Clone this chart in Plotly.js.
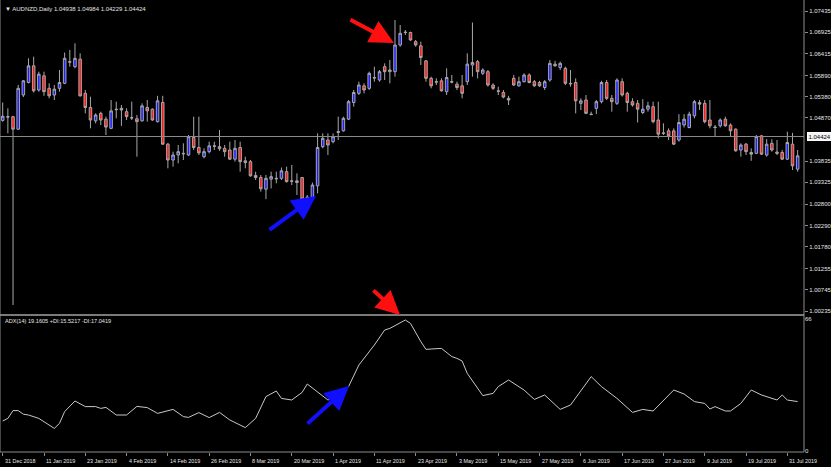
<!DOCTYPE html>
<html><head><meta charset="utf-8">
<script src="https://cdn.plot.ly/plotly-3.0.1.min.js"></script>
<style>html,body{margin:0;padding:0;background:#000;}#chart{width:831px;height:467px;}</style>
</head><body><div id="chart"></div>
<script>
const openP = [
1.0481,1.0490,1.0490,1.0460,1.0542,1.0572,1.0612,1.0554,1.0588,1.0558,
1.0542,1.0558,1.0570,1.0622,1.0610,1.0628,1.0546,1.0512,1.0480,1.0498,
1.0484,1.0462,1.0508,1.0510,1.0502,1.0488,1.0485,1.0480,1.0512,1.0508,
1.0478,1.0524,1.0424,1.0386,1.0398,1.0402,1.0398,1.0440,1.0416,1.0394,
1.0406,1.0420,1.0418,1.0414,1.0410,1.0388,1.0416,1.0384,1.0382,1.0349,
1.0344,1.0316,1.0340,1.0342,1.0342,1.0358,1.0336,1.0332,1.0344,1.0297,
1.0292,1.0324,1.0418,1.0434,1.0430,1.0452,1.0456,1.0484,1.0524,1.0546,
1.0564,1.0558,1.0584,1.0578,1.0610,1.0598,1.0598,1.0662,1.0693,1.0692,
1.0670,1.0660,1.0624,1.0582,1.0574,1.0576,1.0550,1.0574,1.0568,1.0564,
1.0574,1.0614,1.0622,1.0594,1.0598,1.0566,1.0552,1.0548,1.0534,1.0582,
1.0564,1.0574,1.0590,1.0574,1.0572,1.0560,1.0578,1.0616,1.0608,1.0606,
1.0570,1.0572,1.0522,1.0530,1.0496,1.0510,1.0526,1.0572,1.0534,1.0522,
1.0574,1.0546,1.0526,1.0522,1.0500,1.0508,1.0514,1.0482,1.0451,1.0456,
1.0456,1.0434,1.0470,1.0464,1.0492,1.0524,1.0522,1.0482,1.0465,1.0468,
1.0484,1.0470,1.0460,1.0410,1.0424,1.0404,1.0402,1.0444,1.0398,1.0426,
1.0405,1.0404,1.0388,1.0424,1.0364];
const highP = [
1.0524,1.0510,1.0492,1.0566,1.0578,1.0630,1.0634,1.0598,1.0598,1.0570,
1.0566,1.0602,1.0644,1.0650,1.0666,1.0642,1.0554,1.0538,1.0498,1.0502,
1.0490,1.0530,1.0526,1.0518,1.0510,1.0526,1.0494,1.0522,1.0530,1.0510,
1.0540,1.0540,1.0427,1.0406,1.0422,1.0426,1.0446,1.0490,1.0490,1.0414,
1.0430,1.0430,1.0458,1.0422,1.0430,1.0434,1.0430,1.0394,1.0386,1.0358,
1.0350,1.0350,1.0358,1.0358,1.0368,1.0370,1.0374,1.0354,1.0344,1.0302,
1.0332,1.0450,1.0450,1.0450,1.0450,1.0490,1.0490,1.0530,1.0554,1.0574,
1.0570,1.0598,1.0610,1.0602,1.0618,1.0626,1.0722,1.0710,1.0698,1.0694,
1.0674,1.0670,1.0626,1.0586,1.0582,1.0582,1.0606,1.0590,1.0574,1.0590,
1.0642,1.0716,1.0626,1.0606,1.0602,1.0570,1.0562,1.0554,1.0540,1.0590,
1.0586,1.0594,1.0594,1.0578,1.0576,1.0578,1.0626,1.0624,1.0622,1.0610,
1.0602,1.0582,1.0534,1.0542,1.0502,1.0530,1.0576,1.0578,1.0542,1.0582,
1.0582,1.0550,1.0534,1.0530,1.0532,1.0526,1.0526,1.0526,1.0474,1.0462,
1.0462,1.0496,1.0496,1.0502,1.0530,1.0530,1.0530,1.0530,1.0470,1.0486,
1.0490,1.0474,1.0462,1.0426,1.0427,1.0414,1.0446,1.0446,1.0436,1.0436,
1.0434,1.0410,1.0454,1.0451,1.0410];
const lowP = [
1.0478,1.0450,1.0038,1.0458,1.0537,1.0570,1.0548,1.0550,1.0540,1.0534,
1.0530,1.0550,1.0568,1.0610,1.0606,1.0538,1.0498,1.0462,1.0474,1.0470,
1.0446,1.0460,1.0486,1.0468,1.0482,1.0482,1.0394,1.0478,1.0478,1.0480,
1.0476,1.0422,1.0366,1.0370,1.0378,1.0386,1.0396,1.0410,1.0398,1.0390,
1.0402,1.0410,1.0408,1.0394,1.0386,1.0382,1.0358,1.0366,1.0346,1.0338,
1.0310,1.0292,1.0318,1.0330,1.0338,1.0332,1.0326,1.0302,1.0290,1.0290,
1.0290,1.0306,1.0414,1.0398,1.0426,1.0434,1.0454,1.0482,1.0514,1.0542,
1.0546,1.0554,1.0574,1.0574,1.0578,1.0570,1.0586,1.0658,1.0686,1.0672,
1.0658,1.0614,1.0574,1.0558,1.0566,1.0550,1.0542,1.0570,1.0554,1.0534,
1.0566,1.0586,1.0582,1.0590,1.0562,1.0554,1.0542,1.0534,1.0518,1.0564,
1.0562,1.0572,1.0570,1.0562,1.0561,1.0554,1.0574,1.0610,1.0602,1.0566,
1.0562,1.0498,1.0506,1.0496,1.0494,1.0496,1.0522,1.0530,1.0502,1.0518,
1.0538,1.0502,1.0514,1.0476,1.0496,1.0502,1.0474,1.0438,1.0446,1.0434,
1.0422,1.0430,1.0464,1.0462,1.0486,1.0506,1.0474,1.0462,1.0442,1.0464,
1.0466,1.0442,1.0406,1.0394,1.0398,1.0384,1.0400,1.0398,1.0394,1.0406,
1.0398,1.0386,1.0386,1.0362,1.0358];
const closeP = [
1.0491,1.0489,1.0460,1.0558,1.0576,1.0612,1.0552,1.0592,1.0550,1.0540,
1.0556,1.0572,1.0630,1.0621,1.0630,1.0540,1.0512,1.0482,1.0494,1.0482,
1.0465,1.0504,1.0507,1.0506,1.0490,1.0487,1.0478,1.0516,1.0504,1.0482,
1.0528,1.0424,1.0386,1.0398,1.0406,1.0401,1.0442,1.0416,1.0403,1.0406,
1.0420,1.0419,1.0413,1.0406,1.0388,1.0414,1.0382,1.0380,1.0348,1.0344,
1.0317,1.0342,1.0346,1.0341,1.0360,1.0334,1.0335,1.0336,1.0292,1.0292,
1.0326,1.0416,1.0438,1.0422,1.0442,1.0454,1.0486,1.0526,1.0548,1.0566,
1.0554,1.0594,1.0583,1.0598,1.0598,1.0602,1.0662,1.0690,1.0692,1.0674,
1.0662,1.0632,1.0582,1.0564,1.0573,1.0552,1.0584,1.0573,1.0560,1.0546,
1.0616,1.0620,1.0598,1.0602,1.0566,1.0558,1.0551,1.0537,1.0530,1.0566,
1.0574,1.0590,1.0572,1.0564,1.0564,1.0574,1.0618,1.0612,1.0618,1.0570,
1.0569,1.0528,1.0528,1.0498,1.0495,1.0526,1.0572,1.0534,1.0526,1.0578,
1.0542,1.0524,1.0518,1.0508,1.0508,1.0516,1.0478,1.0448,1.0450,1.0444,
1.0424,1.0476,1.0484,1.0496,1.0526,1.0520,1.0478,1.0468,1.0464,1.0482,
1.0468,1.0456,1.0408,1.0422,1.0406,1.0400,1.0442,1.0400,1.0424,1.0410,
1.0402,1.0388,1.0428,1.0372,1.0396];

const adxBar = [0,1,2,3,4,5,7,8,10,11,12,14,16,18,19,20,22,24,26,28,30,33,35,36,38,40,42,44,47,49,51,53,54,56,58,59,61,63,65,67,69,72,74,75,78,79,81,82,83,85,87,88,89,90,93,95,96,98,101,103,105,107,108,110,114,116,119,122,124,126,128,130,132,134,136,137,138,140,141,143,145,147,150,151,152,154];
const adxVal = [15.0,16.3,20.2,20.2,18.4,18.0,16.3,14.7,11.3,13.8,19.7,25.0,22.2,22.2,21.3,21.8,18.0,18.0,22.3,21.7,18.8,20.8,17.2,16.8,19.2,16.7,19.3,15.5,11.7,16.3,27.2,30.0,26.3,25.5,29.3,33.5,29.3,25.5,27.2,32.2,43.0,53.0,60.5,61.3,65.5,63.8,54.7,50.8,51.0,51.3,47.2,46.3,45.0,38.8,27.7,28.8,32.2,35.5,30.5,25.8,28.0,23.0,20.8,23.0,37.2,32.2,26.3,19.3,20.8,20.0,25.5,30.5,28.5,24.7,23.8,21.0,22.2,20.0,20.0,23.8,30.5,28.0,25.5,28.0,25.5,24.7];

const tickBars = [0,8,16,24,32,40,48,56,64,72,80,88,96,104,112,120,128,136,144,152];
const tickLabels = ['31 Dec 2018','11 Jan 2019','23 Jan 2019','4 Feb 2019','14 Feb 2019','26 Feb 2019','8 Mar 2019','20 Mar 2019','1 Apr 2019','11 Apr 2019','23 Apr 2019','3 May 2019','15 May 2019','27 May 2019','6 Jun 2019','17 Jun 2019','27 Jun 2019','9 Jul 2019','19 Jul 2019','31 Jul 2019'];
const priceTicks = [1.07435,1.06925,1.06415,1.05890,1.05380,1.04870,1.03835,1.03325,1.02800,1.02290,1.01780,1.01255,1.00745,1.00235];
const adxTicks = [0,66];
const lastPrice = 1.04424;
const headerText = '\u25BC AUDNZD,Daily 1.04938 1.04984 1.04229 1.04424';
const adxText = 'ADX(14) 19.1605 +DI:15.5217 -DI:17.0419';

const bars = openP.map((_, i) => i);
const FONT = 'Liberation Sans, Arial, sans-serif';
const TXT = '#e6e6e6';
const GRID = '#8c8c8c';

const traces = [
  {
    type: 'candlestick', x: bars, open: openP, high: highP, low: lowP, close: closeP,
    xaxis: 'x', yaxis: 'y',
    increasing: {line: {color: '#a8a8a8', width: 1}, fillcolor: '#1e1eff'},
    decreasing: {line: {color: '#a8a8a8', width: 1}, fillcolor: '#ff1a1a'},
    whiskerwidth: 0, hoverinfo: 'skip'
  },
  {
    type: 'scatter', mode: 'lines', x: adxBar, y: adxVal, xaxis: 'x', yaxis: 'y2',
    line: {color: '#c8c8c8', width: 1}, hoverinfo: 'skip'
  }
];

const annotations = tickBars.map((b, i) => ({
  x: b, xref: 'x', y: 0, yref: 'paper', yanchor: 'top', xanchor: 'left',
  yshift: -4, xshift: 0, text: tickLabels[i], showarrow: false,
  font: {family: FONT, size: 5.4, color: TXT}
}));
annotations.push(
  {x: 0, xref: 'paper', y: 1, yref: 'paper', xanchor: 'left', yanchor: 'top', xshift: 3, yshift: -4,
   text: headerText, showarrow: false, font: {family: FONT, size: 6, color: TXT}},
  {x: 0, xref: 'paper', y: 0.2987, yref: 'paper', xanchor: 'left', yanchor: 'top', xshift: 3, yshift: 1,
   text: adxText, showarrow: false, font: {family: FONT, size: 5.6, color: TXT}},
  {x: 1, xref: 'paper', y: lastPrice, yref: 'y', xanchor: 'left', yanchor: 'middle', xshift: 3,
   text: lastPrice.toFixed(5), showarrow: false, bgcolor: '#f2f2f2', bordercolor: '#ffffff', borderpad: 0.5,
   font: {family: FONT, size: 6, color: '#000000'}},
  {x: 394/804, y: (452-43)/452, xref: 'paper', yref: 'paper', ax: -45, ay: -24,
   showarrow: true, arrowhead: 2, arrowsize: 1.2, arrowwidth: 4, arrowcolor: '#ff1010', text: ''},
  {x: 316/804, y: (452-196)/452, xref: 'paper', yref: 'paper', ax: -48, ay: 35,
   showarrow: true, arrowhead: 2, arrowsize: 1.2, arrowwidth: 4, arrowcolor: '#1010ff', text: ''},
  {x: 400/804, y: (452-315)/452, xref: 'paper', yref: 'paper', ax: -28, ay: -26,
   showarrow: true, arrowhead: 2, arrowsize: 1.2, arrowwidth: 4, arrowcolor: '#ff1010', text: ''},
  {x: 349/804, y: (452-386)/452, xref: 'paper', yref: 'paper', ax: -43, ay: 39,
   showarrow: true, arrowhead: 2, arrowsize: 1.2, arrowwidth: 4, arrowcolor: '#1010ff', text: ''}
);

const shapes = [
  {type: 'line', xref: 'paper', x0: 0, x1: 1, yref: 'y', y0: lastPrice, y1: lastPrice, line: {color: '#8a8a8a', width: 1}},
  {type: 'line', xref: 'paper', x0: 0, x1: 1, yref: 'paper', y0: (452-315)/452, y1: (452-315)/452, line: {color: '#7a7a7a', width: 2}},
  {type: 'line', xref: 'paper', x0: 0, x1: 1, yref: 'paper', y0: 0, y1: 0, line: {color: GRID, width: 1}},
  {type: 'line', xref: 'paper', x0: 1, x1: 1, yref: 'paper', y0: 0, y1: 1, line: {color: GRID, width: 1}},
  {type: 'line', xref: 'paper', x0: 0, x1: 0, yref: 'paper', y0: 0, y1: 1, line: {color: GRID, width: 1}}
];

const layout = {
  width: 831, height: 467,
  paper_bgcolor: '#000', plot_bgcolor: '#000',
  margin: {l: 0, r: 27, t: 0, b: 15, pad: 0},
  showlegend: false,
  xaxis: {range: [-0.523, 155.23], anchor: 'y2', showgrid: false, zeroline: false, showline: false,
          tickmode: 'array', tickvals: tickBars, showticklabels: false, ticks: 'outside', ticklen: 3,
          tickcolor: GRID, rangeslider: {visible: false}, fixedrange: true},
  yaxis: {domain: [(452-313)/452, 1], range: [1.00188, 1.0770], side: 'right', anchor: 'x',
          tickmode: 'array', tickvals: priceTicks, ticktext: priceTicks.map(v => v.toFixed(5)),
          ticks: 'outside', ticklen: 3, tickcolor: GRID, showgrid: false, zeroline: false, showline: false,
          tickfont: {family: FONT, size: 6, color: TXT}, fixedrange: true},
  yaxis2: {domain: [0, (452-317)/452], range: [-0.5, 67], side: 'right', anchor: 'x',
          tickmode: 'array', tickvals: adxTicks, ticktext: adxTicks.map(String),
          ticks: '', showgrid: false, zeroline: false, showline: false,
          tickfont: {family: FONT, size: 6, color: TXT}, fixedrange: true},
  annotations: annotations,
  shapes: shapes
};

Plotly.newPlot('chart', traces, layout, {displayModeBar: false, staticPlot: true});
</script>
</body></html>
